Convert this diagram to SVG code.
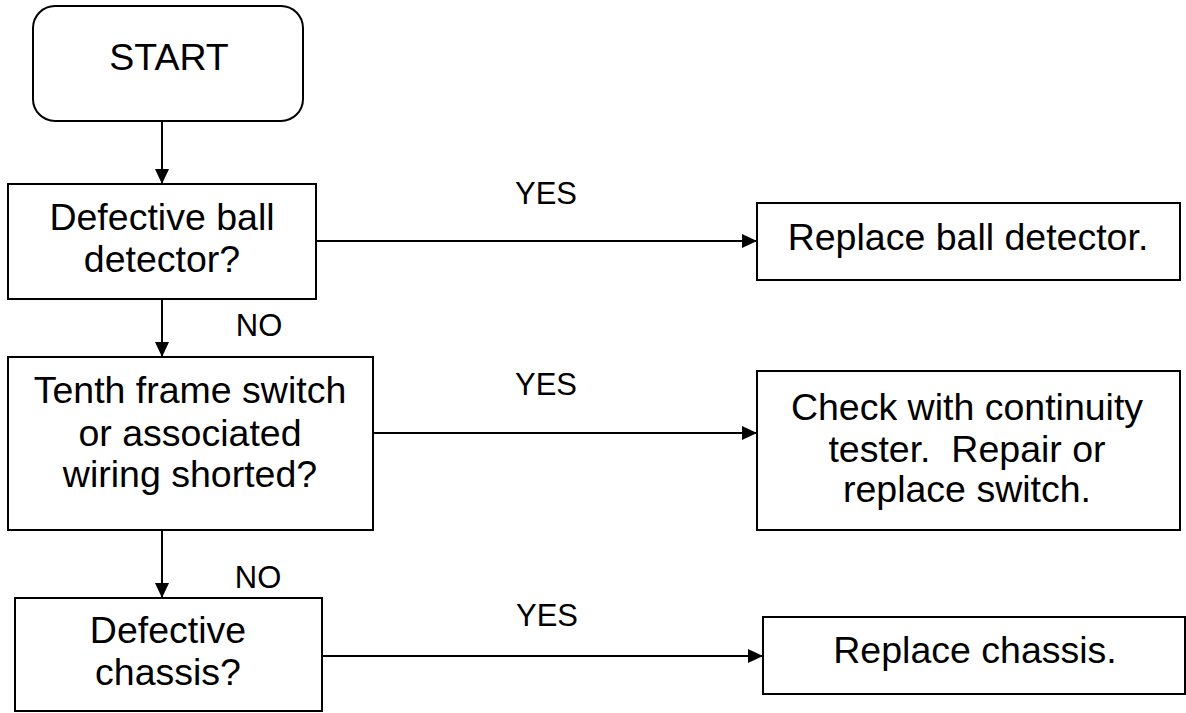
<svg xmlns="http://www.w3.org/2000/svg" width="1186" height="713" viewBox="0 0 1186 713">
<defs>
<style>
.box{fill:#fff;stroke:#000;stroke-width:2}
.t{font-family:"Liberation Sans",Arial,sans-serif;font-size:37.5px;fill:#000;text-anchor:middle}
.lbl{font-family:"Liberation Sans",Arial,sans-serif;font-size:31px;fill:#000;text-anchor:middle}
.c{stroke:#000;stroke-width:2;fill:none}
</style>
<marker id="ah" markerUnits="userSpaceOnUse" markerWidth="16" markerHeight="14" refX="15" refY="7" orient="auto">
<path d="M0,0 L15,7 L0,14 Z" fill="#000"/>
</marker>
</defs>
<rect width="1186" height="713" fill="#fff"/>
<g id="connectors">
<line class="c" x1="162" y1="121" x2="162" y2="184" marker-end="url(#ah)"/>
<line class="c" x1="162" y1="299" x2="162" y2="357" marker-end="url(#ah)"/>
<line class="c" x1="162" y1="530" x2="162" y2="598" marker-end="url(#ah)"/>
<line class="c" x1="316" y1="241" x2="757" y2="241" marker-end="url(#ah)"/>
<line class="c" x1="373" y1="433" x2="757" y2="433" marker-end="url(#ah)"/>
<line class="c" x1="322" y1="656" x2="763" y2="656" marker-end="url(#ah)"/>
<text class="lbl" x="546" y="204">YES</text>
<text class="lbl" x="259" y="336">NO</text>
<text class="lbl" x="546" y="395">YES</text>
<text class="lbl" x="258" y="588">NO</text>
<text class="lbl" x="547" y="626">YES</text>
</g>
<g id="start">
<rect class="box" x="33" y="6" width="270" height="115" rx="22" ry="22"/>
<text class="t" x="169" y="70">START</text>
</g>
<g id="q1">
<rect class="box" x="8" y="184" width="308" height="115"/>
<text class="t" x="162" y="230">Defective ball</text>
<text class="t" x="162" y="272">detector?</text>
</g>
<g id="a1">
<rect class="box" x="757" y="203" width="423" height="77"/>
<text class="t" x="968" y="250">Replace ball detector.</text>
</g>
<g id="q2">
<rect class="box" x="8" y="357" width="365" height="173"/>
<text class="t" x="190" y="403">Tenth frame switch</text>
<text class="t" x="190" y="446">or associated</text>
<text class="t" x="190" y="487">wiring shorted?</text>
</g>
<g id="a2">
<rect class="box" x="757" y="371" width="423" height="159"/>
<text class="t" x="967" y="420">Check with continuity</text>
<text class="t" x="967" y="462" xml:space="preserve">tester.  Repair or</text>
<text class="t" x="967" y="502">replace switch.</text>
</g>
<g id="q3">
<rect class="box" x="15" y="598" width="307" height="113"/>
<text class="t" x="168" y="643">Defective</text>
<text class="t" x="168" y="685">chassis?</text>
</g>
<g id="a3">
<rect class="box" x="763" y="617" width="422" height="77"/>
<text class="t" x="975" y="663">Replace chassis.</text>
</g>
</svg>
